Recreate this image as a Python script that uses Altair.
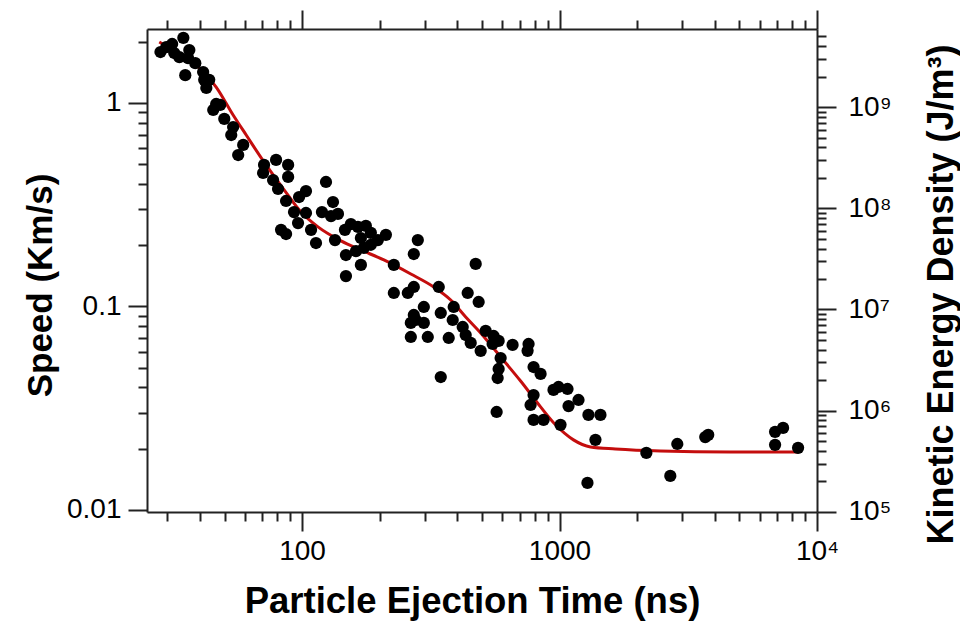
import altair as alt
import pandas as pd

# ---------------- data ----------------
time_ns = [
    28.2, 29.7, 31.3, 31.9, 34.6, 33.4, 36.5, 36.1, 38.5, 35.2,
    41.3, 43.6, 41.7, 42.5, 46.4, 45.2, 48.1, 49.9, 54.0, 53.1,
    59.1, 56.5, 71.2, 79.3, 88.3, 70.6, 77.2, 88.3, 80.7, 86.7,
    97.4, 103.6, 123.9, 131.9, 93.1, 103.6, 82.9, 86.7, 96.5, 108.4,
    113.3, 119.5, 129.6, 137.9, 134.3, 148.1, 148.1, 162.0, 169.3, 169.3,
    154.8, 164.9, 177.0, 185.1, 197.0, 211.7, 173.9, 227.3, 271.7, 281.6,
    146.8, 185.1, 227.3, 257.5, 271.7, 339.6, 297.2, 271.7, 264.6, 297.2,
    345.8, 264.6, 307.9, 472.5, 439.9, 485.3, 276.6, 388.2, 384.8, 371.3,
    420.7, 432.2, 451.9, 494.1, 516.7, 554.8, 580.2, 549.9, 657.3, 758.3,
    751.6, 590.7, 580.2, 575.1, 345.8, 793.0, 844.2, 793.0, 772.0, 947.7,
    991.1, 1074, 1084, 1185, 569.9, 793.0, 867.0, 1009, 1295, 1442,
    1379, 1284, 2174, 2867, 2693, 3681, 3781, 6874, 7383, 6874,
    8443,
]
speed_kms = [
    1.78, 1.88, 1.95, 1.76, 2.09, 1.68, 1.82, 1.66, 1.57, 1.37,
    1.42, 1.30, 1.30, 1.185, 0.989, 0.924, 0.978, 0.835, 0.762, 0.696,
    0.622, 0.555, 0.496, 0.525, 0.496, 0.453, 0.418, 0.433, 0.378, 0.330,
    0.345, 0.369, 0.409, 0.326, 0.291, 0.288, 0.238, 0.227, 0.257, 0.238,
    0.205, 0.291, 0.278, 0.285, 0.212, 0.179, 0.141, 0.187, 0.160, 0.217,
    0.254, 0.246, 0.249, 0.230, 0.212, 0.225, 0.194, 0.160, 0.181, 0.212,
    0.238, 0.201, 0.1165, 0.1165, 0.1247, 0.1247, 0.0994, 0.0908, 0.0830, 0.0830,
    0.0929, 0.0708, 0.0708, 0.1618, 0.1165, 0.1052, 0.0858, 0.0994, 0.0858, 0.0700,
    0.0793, 0.0724, 0.0662, 0.0605, 0.0758, 0.0716, 0.0677, 0.0654, 0.0647, 0.0654,
    0.0605, 0.0558, 0.0493, 0.0445, 0.0450, 0.0504, 0.0466, 0.0367, 0.0328, 0.0389,
    0.0402, 0.0393, 0.0324, 0.0347, 0.0303, 0.0277, 0.0277, 0.0262, 0.0293, 0.0293,
    0.0221, 0.01358, 0.01906, 0.0211, 0.0147, 0.0228, 0.0234, 0.0242, 0.0253, 0.0209,
    0.0202,
]

fit_time_ns = [27.9, 32.5, 38.8, 46.4, 54.0, 60.7, 72.5, 85.2, 99.1, 115.3,
               141.7, 169.3, 207.9, 264.6, 324.8, 378.0, 432.2, 494.1, 590.7,
               706.2, 844.2, 965.0, 1133, 1319, 1649, 2464, 4601, 8443]
fit_speed_kms = [1.994, 1.78, 1.537, 1.198, 0.873, 0.696, 0.496, 0.374, 0.291,
                 0.246, 0.210, 0.1895, 0.1693, 0.1444, 0.1247, 0.1076, 0.0888,
                 0.0741, 0.0565, 0.0430, 0.0321, 0.0262, 0.0221, 0.0204,
                 0.01995, 0.0195, 0.01928, 0.01928]

# axis ranges and ticks
time_domain = [25, 10000]
speed_domain = [0.00977, 2.31]
ke_domain = [0.995e5, 5.93e9]

x_ticks = [30, 40, 50, 60, 70, 80, 90,
           100, 200, 300, 400, 500, 600, 700, 800, 900,
           1000, 2000, 3000, 4000, 5000, 6000, 7000, 8000, 9000, 10000]
speed_ticks = [0.01, 0.02, 0.03, 0.04, 0.05, 0.06, 0.07, 0.08, 0.09,
               0.1, 0.2, 0.3, 0.4, 0.5, 0.6, 0.7, 0.8, 0.9, 1, 2]
ke_ticks = [m * 10 ** e for e in range(5, 9) for m in range(1, 10)] + \
           [1e9, 2e9, 3e9, 4e9, 5e9]

pts = pd.DataFrame({"t": time_ns, "v": speed_kms})
fit = pd.DataFrame({"t": fit_time_ns, "v": fit_speed_kms})
ke_frame = pd.DataFrame({"t": time_domain, "ke": ke_domain})

# ---------------- styling ----------------
FONT = "Liberation Sans"
AX = "#222222"
MAJOR = "abs(log(datum.value)/LN10 - round(log(datum.value)/LN10)) < 0.001"
TICK = {"condition": {"test": MAJOR, "value": 19}, "value": 9}

common = dict(
    grid=False, domainColor=AX, domainWidth=2, tickColor=AX, tickWidth=2,
    tickSize=TICK, labelFont=FONT, labelFontSize=28, labelColor="black",
    labelOverlap=False, labelFlush=False, titleFont=FONT,
    titleFontWeight="bold", titleColor="black",
)

x_bottom = alt.Axis(
    orient="bottom", values=x_ticks,
    labelExpr="datum.value == 100 ? '100' : datum.value == 1000 ? '1000' : datum.value == 10000 ? '10⁴' : ''",
    labelPadding=6, title="Particle Ejection Time (ns)", titleFontSize=36.5,
    titleX=325, titleY=89, titleAlign="center", titleBaseline="middle",
    **common,
)
x_top = alt.Axis(orient="top", values=x_ticks, labels=False, title=None,
                 **{k: v for k, v in common.items() if not k.startswith("title")})
y_left = alt.Axis(
    orient="left", values=speed_ticks,
    labelExpr="datum.value == 1 ? '1' : datum.value == 0.1 ? '0.1' : datum.value == 0.01 ? '0.01' : ''",
    labelPadding=7, title="Speed (Km/s)", titleFontSize=35,
    titleX=-107, titleY=256, titleAngle=270, titleAlign="center", titleBaseline="middle",
    **common,
)
y_right = alt.Axis(
    orient="right", values=ke_ticks,
    labelExpr=("datum.value == 1e5 ? '10⁵' : datum.value == 1e6 ? '10⁶' : "
               "datum.value == 1e7 ? '10⁷' : datum.value == 1e8 ? '10⁸' : "
               "datum.value == 1e9 ? '10⁹' : ''"),
    labelPadding=12, title="Kinetic Energy Density (J/m³)", titleFontSize=36,
    titleX=124, titleY=265, titleAngle=270, titleAlign="center", titleBaseline="middle",
    **common,
)

xs = alt.Scale(type="log", domain=time_domain, nice=False)
ys = alt.Scale(type="log", domain=speed_domain, nice=False)
ks = alt.Scale(type="log", domain=ke_domain, nice=False)

points = alt.Chart(pts).mark_circle(size=150, color="black", opacity=1).encode(
    x=alt.X("t:Q", scale=xs, axis=x_bottom),
    y=alt.Y("v:Q", scale=ys, axis=y_left),
)
line = alt.Chart(fit).mark_line(color="#c40d0d", strokeWidth=3, interpolate="monotone").encode(
    x=alt.X("t:Q", scale=xs, axis=None),
    y=alt.Y("v:Q", scale=ys, axis=None),
)
ke_layer = alt.Chart(ke_frame).mark_point(opacity=0).encode(
    x=alt.X("t:Q", scale=xs, axis=x_top),
    y=alt.Y("ke:Q", scale=ks, axis=y_right),
)

chart = alt.layer(ke_layer, line, points).resolve_scale(
    y="independent"
).resolve_axis(
    x="independent", y="independent"
).properties(
    width=670, height=483,
    padding={"left": 147, "top": 29, "right": 143, "bottom": 111},
    autosize=alt.AutoSizeParams(type="none"),
    background="white",
).configure_view(stroke=None)

chart.save("out.html", embed_options={"renderer": "svg", "actions": False})
